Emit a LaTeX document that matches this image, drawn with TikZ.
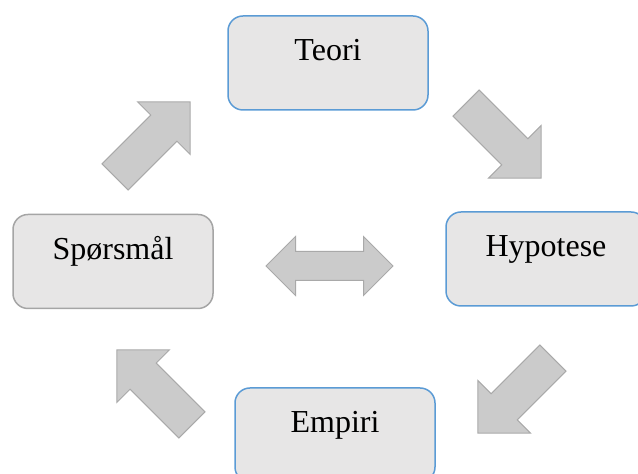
\documentclass[tikz,border=0pt]{standalone}
\usepackage{fontspec}
\setmainfont{Liberation Serif}
\usetikzlibrary{shapes.arrows}

\definecolor{boxfill}{HTML}{E7E6E6}
\definecolor{boxline}{HTML}{5B9BD5}
\definecolor{greyline}{HTML}{A5A5A5}
\definecolor{arrowfill}{HTML}{CBCBCB}
\definecolor{arrowline}{HTML}{A9A9A9}

\begin{document}
\begin{tikzpicture}
[x=0.5pt, y=-0.5pt,
  stage/.style={draw=boxline, fill=boxfill, line width=0.75pt,
    rounded corners=7.5pt, minimum width=100pt, minimum height=47pt,
    inner sep=0pt, text height=22.5pt, text depth=24.5pt,
    font=\fontsize{16}{19}\selectfont},
  blockarrow/.style={single arrow, draw=arrowline, fill=arrowfill,
    line width=0.5pt, inner xsep=0pt, inner ysep=9pt, minimum width=36.5pt,
    minimum height=53pt, single arrow head extend=9.25pt}]
  \useasboundingbox (0,0) rectangle (638,474);
  \clip (0,0) rectangle (638,474);
  % the four stages
  \node[stage] (teori) at (328,63) {Teori};
  \node[stage] (hypotese) at (546,259) {Hypotese};
  \node[stage, draw=greyline] (sporsmal) at (113,261.5) {Spørsmål};
  \node[stage] (empiri) at (335,435) {Empiri};
  % block arrows round the cycle
  \node[blockarrow, rotate=45] (toteori) at (146,146) {};
  \node[blockarrow, rotate=-45] (tohypotese) at (497,134) {};
  \node[blockarrow, rotate=-135] (toempiri) at (522,389) {};
  \node[blockarrow, rotate=135] (tosporsmal) at (161,394) {};
  \node[blockarrow, double arrow, inner ysep=7pt, minimum width=29pt,
    minimum height=63.5pt, double arrow head extend=7.5pt] (midt) at (329.5,266) {};
\end{tikzpicture}
\end{document}
